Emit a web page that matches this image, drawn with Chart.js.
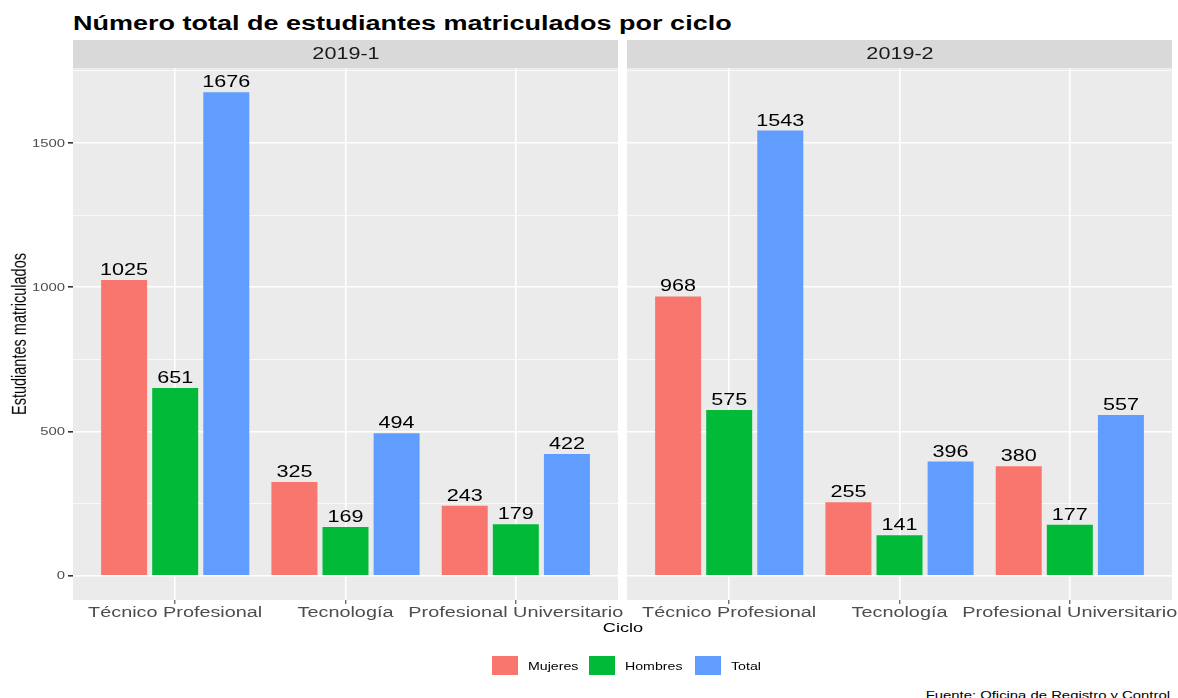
<!DOCTYPE html>
<html lang="es">
<head>
<meta charset="utf-8">
<title>Número total de estudiantes matriculados por ciclo</title>
<script src="https://cdn.jsdelivr.net/npm/chart.js@4.4.1/dist/chart.umd.min.js"></script>
<style>
  body { margin: 0; background: #fff; }
  #page { position: relative; width: 1178px; height: 698px; overflow: hidden; font-family: "Liberation Sans", Arial, sans-serif; }
  .t { position: absolute; white-space: nowrap; line-height: 1; }
  .strip { position: absolute; top: 40px; height: 28px; background: #D9D9D9; }
  .key { position: absolute; top: 656px; width: 26px; height: 19px; }
  canvas { position: absolute; }
</style>
</head>
<body>
<div id="page">
  <div class="strip" style="left:73px;width:545px"></div>
  <div class="strip" style="left:627px;width:545px"></div>
  <canvas id="panel2" width="558" height="580" style="left:620px;top:60px"></canvas>
  <canvas id="panel1" width="640" height="580" style="left:0;top:60px"></canvas>
</div>
<script>
const categories = ["Técnico Profesional", "Tecnología", "Profesional Universitario"];
const series = ["Mujeres", "Hombres", "Total"];
const colors = ["#F8766D", "#00BA38", "#619CFF"];
const periods = ["2019-1", "2019-2"];

// values per series, same order as categories
const mujeres1 = [1025, 325, 243];
const hombres1 = [651, 169, 179];
const total1 = [1676, 494, 422];
const mujeres2 = [968, 255, 380];
const hombres2 = [575, 141, 177];
const total2 = [1543, 396, 557];

const yTicks = [0, 500, 1000, 1500];
const yMinor = [250, 750, 1250, 1750];

const page = document.getElementById("page");
const SX = 1.35; // the picture is stretched sideways
const FONT = '"Liberation Sans", Arial, sans-serif';

function addText(str, x, y, size, opts = {}) {
  const d = document.createElement("div");
  d.className = "t";
  d.textContent = str;
  d.style.fontSize = size + "px";
  d.style.color = opts.color || "#000";
  if (opts.bold) d.style.fontWeight = "bold";
  d.style.left = x + "px";
  d.style.top = y + "px";
  const align = opts.align || "center";
  if (opts.rotate) {
    d.style.transformOrigin = "center";
    d.style.transform = `translate(-50%,-50%) rotate(-90deg) scaleY(${SX})`;
  } else if (align === "left") {
    d.style.transformOrigin = "left center";
    d.style.transform = `translate(0,-50%) scaleX(${SX})`;
  } else if (align === "right") {
    d.style.transformOrigin = "right center";
    d.style.transform = `translate(-100%,-50%) scaleX(${SX})`;
  } else {
    d.style.transformOrigin = "center";
    d.style.transform = `translate(-50%,-50%) scaleX(${SX})`;
  }
  page.appendChild(d);
}

addText("Número total de estudiantes matriculados por ciclo", 73, 22.5, 20, { bold: true, align: "left" });
addText(periods[0], 345.5, 54, 16, { color: "#1A1A1A" });
addText(periods[1], 899.5, 54, 16, { color: "#1A1A1A" });
addText("Estudiantes matriculados", 18.5, 334, 14.5, { rotate: true });
addText("Ciclo", 622.5, 628, 13.5);
addText("Fuente: Oficina de Registro y Control", 1170, 694.5, 11, { align: "right" });

// legend
const keyX = [492, 589, 695];
series.forEach((name, k) => {
  const box = document.createElement("div");
  box.className = "key";
  box.style.left = keyX[k] + "px";
  box.style.background = colors[k];
  page.appendChild(box);
  addText(name, keyX[k] + 36, 666, 10.5, { align: "left" });
});

Chart.defaults.font.family = FONT;

const yMax = Math.max(...total1, ...total2);
const yLow = -0.05 * yMax;
const yHigh = 1.05 * yMax;

function stretchedText(ctx, str, x, y) {
  ctx.save();
  ctx.translate(x, y);
  ctx.scale(SX, 1);
  ctx.fillText(str, 0, 0);
  ctx.restore();
}

const panelBg = {
  id: "panelBg",
  beforeDraw(chart) {
    const { ctx, chartArea: a } = chart;
    ctx.save();
    ctx.fillStyle = "#EBEBEB";
    ctx.fillRect(a.left, a.top, a.right - a.left, a.bottom - a.top);
    ctx.restore();
  }
};

// values above the bars
const barLabels = {
  id: "barLabels",
  afterDatasetsDraw(chart) {
    const ctx = chart.ctx;
    ctx.save();
    ctx.font = "16px " + FONT;
    ctx.fillStyle = "#000";
    ctx.textAlign = "center";
    ctx.textBaseline = "alphabetic";
    chart.data.datasets.forEach((ds, i) => {
      chart.getDatasetMeta(i).data.forEach((bar, j) => {
        stretchedText(ctx, String(ds.data[j].y), bar.x, bar.y - 5);
      });
    });
    ctx.restore();
  }
};

// tick labels from the scales, drawn wide like the rest of the picture
const tickLabels = {
  id: "tickLabels",
  afterDraw(chart) {
    const ctx = chart.ctx;
    const xs = chart.scales.x, ys = chart.scales.y;
    ctx.save();
    ctx.fillStyle = "#4D4D4D";
    ctx.font = "14.7px " + FONT;
    ctx.textAlign = "center";
    ctx.textBaseline = "alphabetic";
    xs.ticks.forEach((t, i) => {
      stretchedText(ctx, String(t.label), xs.getPixelForTick(i), chart.chartArea.bottom + 17);
    });
    if (chart.options.scales.y.showLabels) {
      ctx.font = "11px " + FONT;
      ctx.textAlign = "right";
      ctx.textBaseline = "middle";
      ys.ticks.forEach((t, i) => {
        if (t.label !== "") stretchedText(ctx, String(t.label), ys.right - 8, ys.getPixelForTick(i) + 0.5);
      });
    }
    ctx.restore();
  }
};

function makePanel(id, values, showY, pad) {
  return new Chart(document.getElementById(id), {
    type: "bar",
    data: {
      datasets: series.map((name, k) => ({
        label: name,
        data: values[k].map((v, i) => ({ x: i + 1, y: v })),
        backgroundColor: colors[k],
        categoryPercentage: 0.9,
        barPercentage: 0.9
      }))
    },
    options: {
      responsive: false,
      animation: false,
      devicePixelRatio: 1,
      layout: { padding: pad },
      plugins: { legend: { display: false }, tooltip: { enabled: false } },
      scales: {
        x: {
          type: "linear",
          min: 0.4,
          max: 3.6,
          offset: false,
          afterBuildTicks: s => { s.ticks = categories.map((c, i) => ({ value: i + 1 })); },
          ticks: {
            display: false,
            callback: v => categories[v - 1],
            autoSkip: false,
            maxRotation: 0
          },
          grid: { offset: false, color: "#FFFFFF", lineWidth: 1.6, tickColor: "#333333", tickLength: 4, tickWidth: 1 },
          border: { display: false },
          afterFit: s => { s.height = 40; s.paddingLeft = 0; s.paddingRight = 0; }
        },
        y: {
          min: yLow,
          max: yHigh,
          showLabels: showY,
          afterBuildTicks: s => {
            s.ticks = [...yTicks, ...yMinor].sort((a, b) => a - b).map(v => ({ value: v }));
          },
          ticks: {
            display: false,
            callback: v => (yTicks.includes(v) ? String(v) : "")
          },
          grid: {
            color: "#FFFFFF",
            lineWidth: c => (yTicks.includes(c.tick.value) ? 1.6 : 0.7),
            drawTicks: showY,
            tickColor: c => (yTicks.includes(c.tick.value) ? "#333333" : "rgba(0,0,0,0)"),
            tickLength: 5
          },
          border: { display: false },
          afterFit: s => { s.width = showY ? 73 : 0; s.paddingTop = 0; s.paddingBottom = 0; }
        }
      }
    },
    plugins: [panelBg, barLabels, tickLabels]
  });
}

makePanel("panel1", [mujeres1, hombres1, total1], true, { top: 8, right: 22, left: 0, bottom: 0 });
makePanel("panel2", [mujeres2, hombres2, total2], false, { top: 8, right: 6, left: 7, bottom: 0 });
</script>
</body>
</html>
